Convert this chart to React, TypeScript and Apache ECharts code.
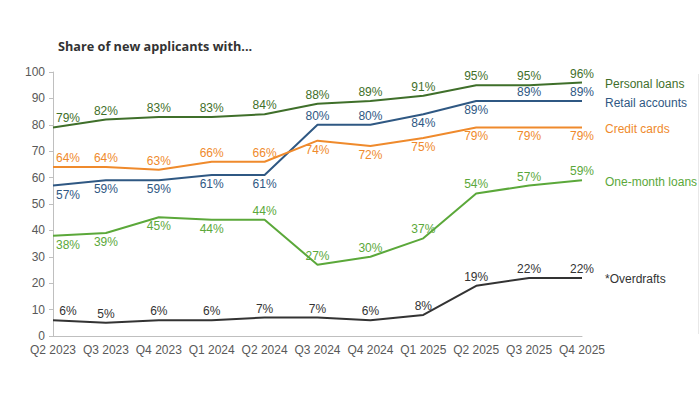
import React, { useEffect, useRef } from "react";
import * as echarts from "echarts";

const categories = ["Q2 2023", "Q3 2023", "Q4 2023", "Q1 2024", "Q2 2024", "Q3 2024", "Q4 2024", "Q1 2025", "Q2 2025", "Q3 2025", "Q4 2025"];
const personalLoans = [79, 82, 83, 83, 84, 88, 89, 91, 95, 95, 96];
const retailAccounts = [57, 59, 59, 61, 61, 80, 80, 84, 89, 89, 89];
const creditCards = [64, 64, 63, 66, 66, 74, 72, 75, 79, 79, 79];
const oneMonthLoans = [38, 39, 45, 44, 44, 27, 30, 37, 54, 57, 59];
const overdrafts = [6, 5, 6, 6, 7, 7, 6, 8, 19, 22, 22];

// label placement (T = above, B = below)
const posPersonal = "TTTTTTTTTTT";
const posRetail = "BBBBBTTBBTT";
const posCredit = "TTTTTBBBBBB";
const posOneMonth = "BBBBTTTTTTT";
const posOverdraft = "TTTTTTTTTTT";

const FONT = "Liberation Sans, Arial, sans-serif";

function mk(name: string, values: number[], pos: string, color: string) {
  return {
    type: "line",
    name,
    data: values.map((v, i) => ({
      value: v,
      label: {
        position: pos[i] === "T" ? "top" : "bottom",
        offset: i === 0 ? [15, 0] : [0, 0],
      },
    })),
    symbol: "circle",
    symbolSize: 0,
    showSymbol: true,
    lineStyle: { color, width: 2 },
    itemStyle: { color },
    label: {
      show: true,
      formatter: "{c}%",
      color,
      fontSize: 12,
      fontFamily: FONT,
      distance: 3,
    },
    endLabel: {
      show: true,
      formatter: name,
      color,
      fontSize: 12,
      fontFamily: FONT,
      distance: 23,
      offset: [0, 1.5],
    },
  };
}

export default function App() {
  const ref = useRef<HTMLDivElement>(null);
  useEffect(() => {
    if (!ref.current) return;
    const chart = echarts.init(ref.current, null, { renderer: "svg" });
    chart.setOption({
      animation: false,
      backgroundColor: "#ffffff",
      title: {
        text: "Share of new applicants with...",
        left: 53,
        top: 34,
        textStyle: { fontSize: 12.7, fontWeight: "bold", color: "#333333", fontFamily: "Open Sans, sans-serif" },
      },
      grid: { left: 53, right: 118, top: 72, bottom: 58 },
      xAxis: {
        type: "category",
        data: categories,
        boundaryGap: false,
        axisLine: { lineStyle: { color: "#bfbfbf" } },
        axisTick: { show: false },
        axisLabel: { color: "#595959", fontSize: 12, fontFamily: FONT, margin: 7.5, interval: 0 },
      },
      yAxis: {
        type: "value",
        min: 0,
        max: 100,
        interval: 10,
        splitLine: { show: false },
        axisLine: { show: true, lineStyle: { color: "#bfbfbf" } },
        axisTick: { show: true, length: 4, lineStyle: { color: "#bfbfbf" } },
        axisLabel: { color: "#595959", fontSize: 12, fontFamily: FONT, margin: 8 },
      },
      graphic: [
        {
          type: "line",
          shape: { x1: 698.5, y1: 74, x2: 698.5, y2: 334 },
          style: { stroke: "#e8e8e8", lineWidth: 1 },
        },
      ],
      series: [
        mk("Personal loans", personalLoans, posPersonal, "#3f6f2a"),
        mk("Retail accounts", retailAccounts, posRetail, "#2f5883"),
        mk("Credit cards", creditCards, posCredit, "#ef8a2c"),
        mk("One-month loans", oneMonthLoans, posOneMonth, "#5ba83a"),
        mk("*Overdrafts", overdrafts, posOverdraft, "#333333"),
      ],
    });
    return () => chart.dispose();
  }, []);
  return <div ref={ref} style={{ width: 700, height: 394, position: "absolute", left: 0, top: 0 }} />;
}
